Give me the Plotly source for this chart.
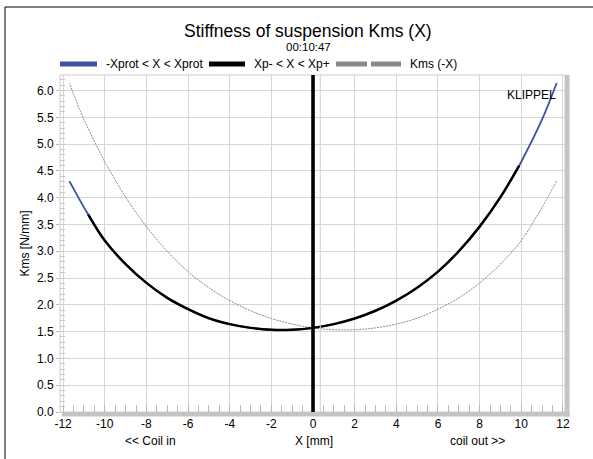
import plotly.graph_objects as go

# Suspension stiffness Kms versus coil displacement X
x_mm = [-11.7, -11.0, -10.8, -10.0, -9.0, -8.0, -7.0, -6.0, -5.0, -4.0, -3.0,
        -2.0, -1.0, 0.0, 1.0, 2.0, 3.0, 4.0, 5.0, 6.0, 7.0, 8.0, 9.0, 9.9,
        10.0, 11.0, 11.7]
kms_n_per_mm = [4.31, 3.82, 3.69, 3.20, 2.76, 2.41, 2.13, 1.92, 1.75, 1.64, 1.57,
                1.535, 1.535, 1.57, 1.64, 1.745, 1.89, 2.08, 2.32, 2.62, 3.00, 3.46,
                4.01, 4.60, 4.67, 5.46, 6.14]

# Displacement limits
xp_minus = -10.8
xp_plus = 9.9
x_rest = 0.0
x_offset = 0.35

x_ticks = list(range(-12, 13, 2))
x_tick_text = [str(v) for v in x_ticks]

BLUE = "#3853a4"
GRAY = "#8a8a8a"
GRID = "#d6d6d6"
FONT = "Liberation Sans, Arial, sans-serif"

W, H = 593, 459
L, R, T, B = 60, 28, 75, 47
PW, PH = W - L - R, H - T - B


def px(xp):
    return (xp - L) / PW


def py(yp):
    return (H - B - yp) / PH


def label(text, x, y, size=12, xanchor="center", xref="paper"):
    return dict(text=text, x=x, y=y, xref=xref, yref="paper", xanchor=xanchor,
                yanchor="middle", showarrow=False,
                font=dict(size=size, color="black", family=FONT))


inner_x = [x for x in x_mm if xp_minus <= x <= xp_plus]
inner_k = [k for x, k in zip(x_mm, kms_n_per_mm) if xp_minus <= x <= xp_plus]
mirror_x = [-x for x in x_mm]

fig = go.Figure()
fig.add_trace(go.Scatter(x=x_mm, y=kms_n_per_mm, mode="lines", name="-Xprot < X < Xprot",
                         line=dict(color=BLUE, width=1.8, shape="spline"), showlegend=False))
fig.add_trace(go.Scatter(x=mirror_x, y=kms_n_per_mm, mode="lines", name="Kms (-X)",
                         line=dict(color=GRAY, width=1, dash="2px,1px", shape="spline"),
                         showlegend=False))
fig.add_trace(go.Scatter(x=inner_x, y=inner_k, mode="lines", name="Xp- < X < Xp+",
                         line=dict(color="black", width=2.5, shape="spline"), showlegend=False))

shapes = []
# outer frame
shapes.append(dict(type="rect", xref="paper", yref="paper", x0=px(5), x1=px(640),
                   y0=py(520), y1=py(7), line=dict(color="black", width=1)))
# plot border
shapes.append(dict(type="rect", xref="paper", yref="paper", x0=0, x1=1, y0=0, y1=1,
                   line=dict(color="#cccccc", width=1), layer="below"))
# right and bottom shadow bars
shapes.append(dict(type="rect", xref="paper", yref="paper", x0=px(565), x1=px(569.5),
                   y0=py(416.5), y1=1, fillcolor="#c4c4c4", line=dict(width=0)))
shapes.append(dict(type="rect", xref="paper", yref="paper", x0=px(62), x1=px(569.5),
                   y0=py(416.5), y1=py(412), fillcolor="#c4c4c4", line=dict(width=0)))
# rest position markers
shapes.append(dict(type="line", xref="x", yref="paper", x0=x_offset, x1=x_offset, y0=0, y1=1,
                   line=dict(color="#d2d2d2", width=1)))
shapes.append(dict(type="line", xref="x", yref="paper", x0=x_rest, x1=x_rest, y0=0, y1=1,
                   line=dict(color="black", width=3.6)))

# legend row
ly = py(64)
shapes.append(dict(type="line", xref="paper", yref="paper", x0=px(60), x1=px(97), y0=ly, y1=ly,
                   line=dict(color=BLUE, width=5)))
shapes.append(dict(type="line", xref="paper", yref="paper", x0=px(209), x1=px(245), y0=ly, y1=ly,
                   line=dict(color="black", width=5)))
shapes.append(dict(type="line", xref="paper", yref="paper", x0=px(336), x1=px(367), y0=ly, y1=ly,
                   line=dict(color=GRAY, width=5)))
shapes.append(dict(type="line", xref="paper", yref="paper", x0=px(371), x1=px(401), y0=ly, y1=ly,
                   line=dict(color=GRAY, width=5)))

annotations = [
    label("Stiffness of suspension Kms (X)", px(308), py(31), size=17.5),
    label("00:10:47", px(308), py(47), size=11.5),
    label("-Xprot < X < Xprot", px(104), ly, xanchor="left"),
    label("Xp- < X < Xp+", px(252), ly, xanchor="left"),
    label("Kms (-X)", px(408), ly, xanchor="left"),
    label("KLIPPEL", px(558), py(95), xanchor="right"),
    label("<< Coil in", -7.8, py(441), xref="x"),
    label("coil out >>", 7.9, py(441), xref="x"),
    label("X [mm]", px(314), py(441)),
]

fig.update_layout(
    width=W, height=H,
    margin=dict(l=L, r=R, t=T, b=B, pad=0),
    paper_bgcolor="white", plot_bgcolor="white",
    font=dict(family=FONT, size=12, color="black"),
    showlegend=False,
    shapes=shapes,
    annotations=annotations,
    xaxis=dict(range=[-12.15, 12.1], tickvals=x_ticks, ticktext=x_tick_text, showgrid=True,
               gridcolor=GRID, gridwidth=1, zeroline=False, showline=False, ticks="",
               ticklabelstandoff=3,
               minor=dict(dtick=0.5, ticks="inside", ticklen=7, tickcolor="#b8b8b8",
                          showgrid=False),
               tickfont=dict(size=12)),
    yaxis=dict(range=[0, 6.29], dtick=0.5, tickformat=".1f", showgrid=True, gridcolor=GRID,
               gridwidth=1, zeroline=False, showline=False, ticks="outside", ticklen=3,
               tickcolor="#b8b8b8",
               minor=dict(dtick=0.1, ticks="inside", ticklen=5, tickcolor="#c8c8c8",
                          showgrid=False),
               title=dict(text="Kms [N/mm]", standoff=4, font=dict(size=12)),
               tickfont=dict(size=12)),
)

fig.write_html("out.html")
